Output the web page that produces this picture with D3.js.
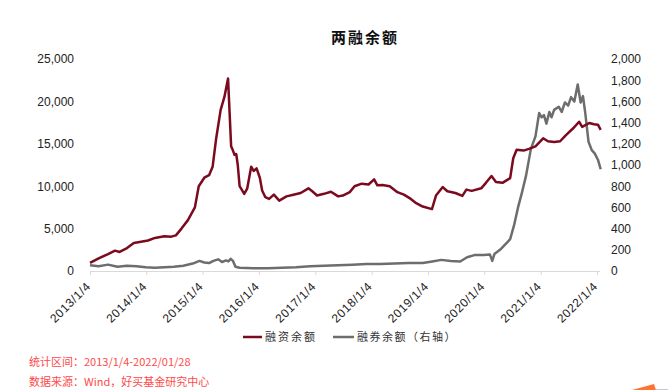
<!DOCTYPE html>
<html><head><meta charset="utf-8">
<script src="https://cdn.jsdelivr.net/npm/d3@7"></script>
<style>
body{margin:0;background:#fff;}
svg{display:block;font-family:"Liberation Sans","Noto Sans CJK SC",sans-serif;}
</style></head>
<body><svg id="c" width="668" height="390"></svg>
<script>
const title = "两融余额";
const seriesNames = ["融资余额", "融券余额（右轴）"];
const footnotes = ["统计区间：2013/1/4-2022/01/28", "数据来源：Wind，好买基金研究中心"];
const xTickDates = ["2013-01-04","2014-01-04","2015-01-04","2016-01-04","2017-01-04","2018-01-04","2019-01-04","2020-01-04","2021-01-04","2022-01-04"];
const leftTicks = [0,5000,10000,15000,20000,25000];
const rightTicks = [0,200,400,600,800,1000,1200,1400,1600,1800,2000];

const finDates = ["2013-01-04","2013-03-01","2013-05-01","2013-06-15","2013-07-15","2013-09-01","2013-10-15","2013-12-01","2014-01-15","2014-03-01","2014-05-01","2014-06-15","2014-07-15","2014-08-20","2014-10-01","2014-11-15","2014-12-10","2015-01-15","2015-02-15","2015-03-10","2015-04-01","2015-05-01","2015-05-25","2015-06-18","2015-07-08","2015-07-20","2015-07-30","2015-08-10","2015-08-20","2015-09-01","2015-10-01","2015-10-20","2015-11-15","2015-12-01","2015-12-20","2016-01-10","2016-01-25","2016-02-15","2016-03-10","2016-04-10","2016-05-15","2016-07-01","2016-08-15","2016-10-01","2016-11-20","2016-12-15","2017-01-15","2017-03-01","2017-04-15","2017-06-01","2017-07-01","2017-08-15","2017-09-15","2017-11-01","2017-12-15","2018-01-20","2018-02-10","2018-03-15","2018-05-01","2018-06-20","2018-08-01","2018-09-15","2018-10-20","2018-12-01","2019-01-30","2019-02-25","2019-04-10","2019-05-10","2019-07-01","2019-08-15","2019-09-10","2019-10-15","2019-12-15","2020-01-15","2020-02-20","2020-03-20","2020-05-01","2020-06-20","2020-07-10","2020-08-01","2020-09-15","2020-10-20","2020-12-01","2021-01-20","2021-02-20","2021-04-01","2021-05-10","2021-06-15","2021-08-01","2021-09-10","2021-09-30","2021-11-15","2021-12-15","2022-01-10","2022-01-28"];
const finValues = [950,1500,2000,2400,2250,2700,3300,3450,3600,3900,4100,4050,4200,5000,6000,7500,10000,11000,11300,12300,15500,19000,20500,22700,14700,14200,13700,13800,12500,10000,9100,9700,12300,11800,12100,11000,9500,8700,8500,9000,8300,8800,9000,9200,9750,9400,8900,9100,9350,8800,8900,9300,10000,10300,10200,10800,10100,10150,10000,9300,9000,8500,8000,7600,7300,8900,9900,9400,9200,8850,9600,9450,9750,10400,11200,10500,10400,10950,13300,14300,14200,14400,14700,15650,15300,15200,15300,16000,16800,17600,17000,17450,17300,17250,16650];

const secDates = ["2013-01-04","2013-03-01","2013-05-01","2013-07-01","2013-09-01","2013-11-01","2014-01-01","2014-03-01","2014-05-01","2014-07-01","2014-09-01","2014-11-01","2014-12-15","2015-01-15","2015-02-15","2015-03-15","2015-04-15","2015-05-10","2015-06-05","2015-06-20","2015-07-05","2015-07-20","2015-08-05","2015-09-01","2015-12-01","2016-03-01","2016-06-01","2016-09-01","2016-12-01","2017-03-01","2017-06-01","2017-09-01","2017-12-01","2018-03-01","2018-06-01","2018-09-01","2018-12-01","2019-02-01","2019-04-01","2019-06-01","2019-08-01","2019-09-15","2019-11-01","2020-01-01","2020-02-10","2020-02-25","2020-03-10","2020-04-15","2020-06-01","2020-06-20","2020-07-15","2020-08-10","2020-09-01","2020-10-01","2020-11-01","2020-12-01","2020-12-25","2021-01-10","2021-01-25","2021-02-10","2021-03-01","2021-03-15","2021-04-01","2021-05-01","2021-05-20","2021-06-10","2021-07-01","2021-07-20","2021-08-10","2021-09-01","2021-09-20","2021-10-05","2021-10-20","2021-11-10","2021-12-01","2021-12-20","2022-01-10","2022-01-28"];
const secValues = [55,45,60,40,50,45,35,30,35,40,50,70,95,80,75,95,110,85,100,90,115,95,40,30,25,25,30,35,45,50,55,60,65,65,70,75,75,90,105,95,90,130,150,150,155,95,160,200,270,300,430,600,720,900,1150,1270,1490,1450,1470,1390,1500,1450,1520,1550,1500,1590,1560,1640,1600,1760,1590,1650,1490,1220,1140,1110,1050,960];

const parse = d3.timeParse("%Y-%m-%d");
const svg = d3.select("#c");
const m = {l:90, r:600, t:59, b:271};

const x = d3.scaleTime().domain([parse("2013-01-04"), parse("2022-01-04")]).range([90, 597]);
const yL = d3.scaleLinear().domain([0,25000]).range([m.b, m.t]);
const yR = d3.scaleLinear().domain([0,2000]).range([m.b, m.t]);

svg.append("text").attr("x",365).attr("y",43).attr("text-anchor","middle")
  .attr("font-family","'Noto Sans CJK SC'").attr("font-weight","bold").attr("font-size",15)
  .attr("letter-spacing",2).attr("fill","#111").text(title);

// x axis
const xa = svg.append("g").attr("transform",`translate(0,${m.b})`)
  .call(d3.axisBottom(x).tickValues(xTickDates.map(parse)).tickSize(4).tickSizeOuter(0)
    .tickFormat(d3.timeFormat("%Y/%-m/%-d")));
xa.select(".domain").attr("stroke","#d9d9d9").attr("d","M90,0.5H600");
xa.selectAll(".tick line").attr("stroke","#d9d9d9");
xa.selectAll(".tick text").attr("font-size",12).attr("fill","#222").attr("font-family","'Liberation Sans'")
  .attr("letter-spacing",0.6)
  .attr("text-anchor","end").attr("transform","rotate(-45)").attr("dx","-0.9em").attr("dy","1.0em").attr("y",0);

// left axis
const la = svg.append("g").attr("transform",`translate(76,0)`)
  .call(d3.axisLeft(yL).tickValues(leftTicks).tickSize(0).tickFormat(d3.format(",")));
la.select(".domain").remove();
la.selectAll("text").attr("font-size",12).attr("fill","#222").attr("font-family","'Liberation Sans'").attr("x",-2);

// right axis
const ra = svg.append("g").attr("transform",`translate(610,0)`)
  .call(d3.axisRight(yR).tickValues(rightTicks).tickSize(0).tickFormat(d3.format(",")));
ra.select(".domain").remove();
ra.selectAll("text").attr("font-size",12).attr("fill","#222").attr("font-family","'Liberation Sans'").attr("x",1);

const fin = finDates.map((d,i)=>({d:parse(d), v:finValues[i]}));
const sec = secDates.map((d,i)=>({d:parse(d), v:secValues[i]}));

svg.append("path").datum(sec).attr("fill","none").attr("stroke","#6d6d6d").attr("stroke-width",2.5)
  .attr("stroke-linejoin","round")
  .attr("d", d3.line().x(p=>x(p.d)).y(p=>yR(p.v)));
svg.append("path").datum(fin).attr("fill","none").attr("stroke","#7c0a1e").attr("stroke-width",2.5)
  .attr("stroke-linejoin","round")
  .attr("d", d3.line().x(p=>x(p.d)).y(p=>yL(p.v)));

// legend
const lg = svg.append("g").attr("font-family","'Noto Sans CJK SC'").attr("font-size",11).attr("fill","#333");
lg.append("line").attr("x1",243).attr("x2",262).attr("y1",337).attr("y2",337).attr("stroke","#7c0a1e").attr("stroke-width",2.5);
lg.append("text").attr("x",265).attr("y",341).attr("letter-spacing",2).text(seriesNames[0]);
lg.append("line").attr("x1",333).attr("x2",354).attr("y1",337).attr("y2",337).attr("stroke","#6d6d6d").attr("stroke-width",2.5);
lg.append("text").attr("x",357).attr("y",341).attr("letter-spacing",1.5).text(seriesNames[1]);

// footnotes
svg.selectAll("text.fn").data(footnotes).enter().append("text").attr("class","fn")
  .attr("x",29).attr("y",(d,i)=>366+i*20).attr("font-size",11).attr("fill","#ff4a4a")
  .attr("font-family","'Noto Sans CJK SC'").text(d=>d);

// decorative corner
svg.append("path").attr("d","M632,390 L654,384 L656,390 Z").attr("fill","#ff7433");
svg.append("line").attr("x1",656).attr("x2",668).attr("y1",389.5).attr("y2",389.5).attr("stroke","#c0c8dc");
</script></body></html>
